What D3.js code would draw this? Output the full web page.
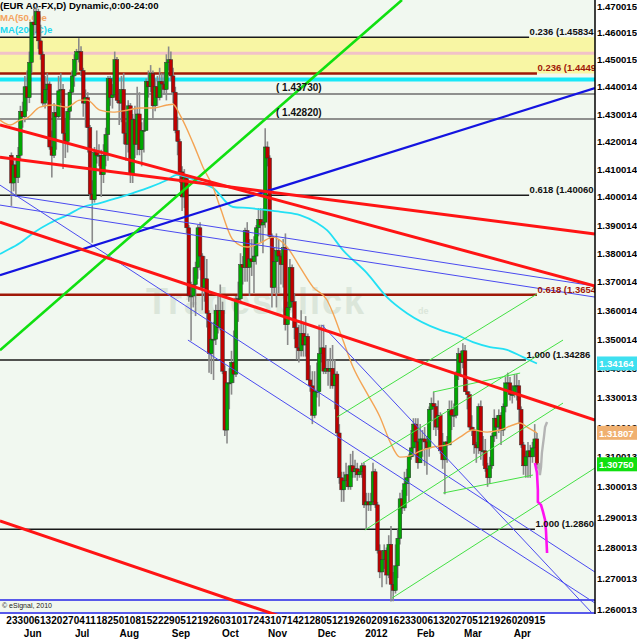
<!DOCTYPE html>
<html><head><meta charset="utf-8">
<script src="https://cdn.jsdelivr.net/npm/d3@7"></script>
<style>body{margin:0;background:#fff}svg{display:block}text{font-family:"Liberation Sans",Arial,sans-serif}</style>
</head><body><svg id="c" width="637" height="640"></svg>
<script>
// ---------- DATA (prices in pips /10000), one entry per trading day from 23 May 2011 ----------
const opens=[14150,14050,14115,14070,14150,14310,14290,14400,14360,14490,14640,14630,14680,14570,14520,14340,14390,14410,14180,14150,14305,14290,14385,14390,14230,14200,14310,14380,14440,14500,14530,14530,14460,14340,14360,14250,14010,13990,14160,14150,14150,14080,14150,14225,14430,14360,14370,14500,14350,14340,14390,14230,14190,14330,14080,14280,14190,14300,14170,14240,14240,14420,14400,14450,14330,14400,14360,14420,14410,14390,14490,14500,14440,14380,14240,14200,14090,14000,14070,13890,13650,13650,13690,13750,13890,13790,13680,13710,13590,13450,13500,13500,13600,13540,13600,13390,13190,13350,13350,13420,13380,13640,13640,13760,13750,13880,13750,13780,13770,13790,13890,13920,13900,13910,14180,14140,13860,13680,13770,13810,13790,13760,13820,13550,13610,13750,13630,13540,13470,13460,13520,13480,13510,13360,13340,13240,13320,13320,13450,13470,13390,13400,13390,13400,13340,13380,13180,13030,12990,13020,13040,13000,13070,13050,13060,13040,13050,13070,12940,12950,12940,12950,13050,12940,12790,12720,12760,12790,12710,12810,12680,12660,12740,12830,12960,12930,13010,13030,13100,13130,13210,13150,13080,13160,13160,13150,13130,13260,13280,13270,13200,13240,13120,13090,13150,13140,13260,13240,13240,13380,13450,13420,13460,13320,13310,13200,13190,13140,13130,13270,13120,13120,13060,13030,13070,13170,13230,13200,13240,13190,13270,13350,13350,13310,13310,13340,13340,13260,13140,13070,13100,13120,13100,13130,13160];
const highs=[14160,14130,14130,14180,14330,14345,14440,14460,14530,14640,14690,14698,14690,14630,14530,14440,14450,14420,14240,14340,14330,14440,14450,14410,14280,14320,14390,14460,14520,14540,14580,14550,14470,14390,14380,14260,14060,14180,14240,14190,14170,14190,14250,14440,14440,14410,14530,14510,14390,14440,14450,14270,14350,14340,14300,14330,14400,14380,14270,14280,14430,14460,14480,14460,14430,14440,14470,14450,14450,14520,14549,14530,14470,14400,14290,14210,14110,14100,14080,13900,13700,13750,13770,13900,13910,13800,13790,13780,13600,13560,13560,13620,13660,13690,13630,13410,13350,13400,13460,13530,13650,13700,13800,13790,13890,13910,13850,13850,13860,13900,13960,13960,13960,14248,14200,14150,13870,13820,13870,13850,13800,13850,13870,13630,13780,13760,13660,13560,13550,13600,13560,13580,13520,13410,13390,13390,13420,13550,13550,13550,13480,13430,13470,13480,13430,13390,13210,13050,13050,13080,13070,13110,13120,13090,13080,13060,13080,13080,12980,12980,12980,13080,13060,12950,12810,12790,12810,12800,12840,12870,12720,12810,12860,12980,12990,13050,13060,13110,13190,13230,13230,13230,13210,13190,13200,13170,13270,13300,13320,13280,13290,13250,13180,13150,13170,13290,13290,13280,13390,13470,13460,13486,13480,13360,13320,13240,13200,13150,13280,13290,13170,13160,13080,13100,13180,13260,13240,13260,13250,13280,13370,13385,13370,13340,13380,13380,13360,13270,13150,13120,13150,13140,13150,13210,13180];
const lows=[13968,14020,14000,14050,14130,14250,14270,14310,14340,14450,14590,14600,14540,14500,14330,14320,14350,14170,14070,14140,14170,14280,14340,14100,14140,14160,14280,14370,14400,14450,14490,14440,14290,14250,14160,13990,13837,13980,14120,14110,14000,14050,14110,14130,14330,14320,14360,14340,14260,14270,14190,14130,14160,14050,14050,14140,14150,14150,14110,14160,14240,14360,14380,14280,14310,14330,14350,14360,14370,14350,14460,14420,14340,14230,14150,14050,13950,13960,13870,13630,13495,13610,13580,13710,13740,13600,13630,13540,13385,13380,13360,13480,13520,13530,13380,13170,13145,13260,13310,13350,13370,13560,13630,13690,13700,13700,13650,13720,13660,13760,13860,13840,13800,13890,14110,13850,13610,13660,13610,13660,13690,13680,13530,13480,13600,13610,13500,13430,13420,13440,13440,13440,13360,13320,13210,13230,13300,13270,13420,13380,13380,13340,13330,13330,13260,13170,13010,12950,12950,13000,12990,12990,13030,13030,13020,13030,13030,12930,12860,12920,12920,12940,12930,12780,12700,12670,12730,12680,12700,12624,12625,12650,12700,12810,12910,12920,12970,12950,13090,13100,13080,13060,13080,13100,13070,13040,13100,13220,13190,13170,13190,13110,13060,12975,13080,13140,13190,13200,13230,13360,13370,13400,13320,13260,13190,13170,13110,13080,13110,13090,13070,13050,13000,13010,13060,13150,13160,13180,13140,13170,13250,13320,13290,13280,13300,13290,13210,13130,13040,13030,13030,13030,13080,13100,13060];
const closes=[14050,14115,14070,14150,14310,14290,14400,14360,14490,14640,14630,14680,14570,14520,14340,14390,14410,14180,14150,14305,14290,14385,14390,14230,14200,14310,14380,14440,14500,14530,14530,14460,14340,14360,14250,14010,13990,14160,14150,14150,14080,14150,14225,14430,14360,14370,14500,14350,14340,14390,14230,14190,14330,14080,14280,14190,14300,14170,14240,14240,14420,14400,14450,14330,14400,14360,14420,14410,14390,14490,14500,14440,14380,14240,14200,14090,14000,14070,13890,13650,13650,13690,13750,13890,13790,13680,13710,13590,13450,13500,13500,13600,13540,13600,13390,13190,13350,13350,13420,13380,13640,13640,13760,13750,13880,13750,13780,13770,13790,13890,13920,13900,13910,14180,14140,13860,13680,13770,13810,13790,13760,13820,13550,13610,13750,13630,13540,13470,13460,13520,13480,13510,13360,13340,13240,13320,13320,13450,13470,13390,13400,13390,13400,13340,13380,13180,13030,12990,13020,13040,13000,13070,13050,13060,13040,13050,13070,12940,12950,12940,12950,13050,12940,12790,12720,12760,12790,12710,12810,12680,12660,12740,12830,12960,12930,13010,13030,13100,13130,13210,13150,13080,13160,13160,13150,13130,13260,13280,13270,13200,13240,13120,13090,13150,13140,13260,13240,13240,13380,13450,13420,13460,13320,13310,13200,13190,13140,13130,13270,13120,13120,13060,13030,13070,13170,13230,13200,13240,13190,13270,13350,13350,13310,13310,13340,13340,13260,13140,13070,13100,13120,13100,13130,13160,13075];

// Moving averages: [trading-day index, price]
const ma50=[[-5.1,1.4278],[-0.6,1.4260],[3.8,1.4278],[6.9,1.4285],[12.7,1.4325],[18.5,1.4333],[24.8,1.4325],[30.5,1.4351],[33.7,1.4351],[39.4,1.4314],[45.2,1.4307],[51.5,1.4314],[57.3,1.4322],[63.1,1.4322],[69.3,1.4333],[71.9,1.4336],[75.1,1.4296],[80.9,1.4194],[85.3,1.4107],[89.8,1.4035],[92.9,1.3964],[98.7,1.3847],[104.9,1.3822],[110.7,1.3836],[116.5,1.3857],[122.7,1.3822],[128.5,1.3751],[134.3,1.3681],[140.5,1.3636],[143.2,1.3590],[147.6,1.3497],[152.1,1.3404],[158.3,1.3315],[164.1,1.3234],[168.6,1.3150],[173.0,1.3099],[177.5,1.3103],[181.9,1.3119],[187.7,1.3133],[193.9,1.3140],[199.7,1.3166],[205.5,1.3190],[211.8,1.3183],[217.5,1.3190],[223.3,1.3207],[226.5,1.3214],[229.6,1.3200],[234,1.31807]];
const ma200=[[-5.1,1.3797],[-4.2,1.3801],[3.8,1.3836],[9.6,1.3871],[17.2,1.3907],[24.8,1.3935],[31.9,1.3964],[39.4,1.3978],[47.0,1.3996],[54.1,1.4014],[61.7,1.4035],[69.3,1.4061],[73.7,1.4079],[78.2,1.4071],[84.0,1.4053],[89.8,1.4032],[98.7,1.3964],[106.2,1.3960],[113.8,1.3953],[120.9,1.3946],[128.5,1.3935],[136.1,1.3907],[140.5,1.3882],[147.6,1.3811],[158.3,1.3730],[167.2,1.3646],[176.1,1.3590],[190.8,1.3532],[198.4,1.3514],[205.5,1.3490],[213.1,1.3473],[220.7,1.3463],[227.8,1.3438],[234,1.34164]];

// Horizontal levels
const bandTop=1.45834, bandBottom=1.4449, pinkLevel=1.4524, cyanLevel=1.4427;
const fibPrices=[1.45834,1.4449,1.40060,1.3654,1.34286,1.2860];
const fibEnds=[230.5,234,230.5,234,229.1,233.1];
const fibLabels=["0.236 (1.45834","0.236 (1.4449","0.618 (1.40060","0.618 (1.3654","1.000 (1.34286","1.000 (1.2860"];
const grayLevels=[1.43730,1.42820];
const grayLabels=["( 1.43730)","( 1.42820)"];
const blueLevels=[1.2629,1.25872];

// Trend lines: [idx1, price1, idx2, price2]
const redLines=[[-5.1,1.4143,259.8,1.3868],[-5.1,1.4260,259.8,1.3685],[-5.1,1.3910,259.8,1.3224],[-5.1,1.2887,128.5,1.2555]];
const greenThick=[[-5.1,1.3462,173.9,1.4723]];
const blueThick=[[-5.1,1.3723,259.8,1.4395]];
const blueThin=[[-0.6,1.40066,259.8,1.36845],[-5.1,1.39709,259.8,1.36461],[-5.1,1.40425,259.8,1.27198],[78.6,1.34970,259.8,1.26194],[138.3,1.35488,258.5,1.25872]];
const greenThin=[[145.0,1.32339,234,1.36567],[156.5,1.30792,245.6,1.34970],[157.4,1.28571,245.6,1.32813],[169.5,1.26355,259.8,1.30625],[192.2,1.29793,232.2,1.30391],[187.7,1.33187,226.5,1.33836]];
// projections after the last bar
const projMagenta=[[233.1,1.3079],[234,1.3047],[234.4,1.2989],[234.4,1.2950],[235.8,1.2940],[236.7,1.2917],[237.6,1.2890],[238.0,1.2857],[238.5,1.2782]];
const projGray=[[234.8,1.3079],[235.3,1.3039],[235.8,1.3066],[236.2,1.3113],[237.1,1.3166],[237.6,1.3200],[238.5,1.3217]];

// Axis texts
const yTickLabels=["1.470015","1.460015","1.450015","1.440014","1.430014","1.420014","1.410014","1.400014","1.390014","1.380014","1.370014","1.360014","1.350014","1.340013","1.330013","1.320013","1.310013","1.300013","1.290013","1.280013","1.270013","1.260013"];
const weekLabels=["23","30","06","13","20","27","04","11","18","25","01","08","15","22","29","05","12","19","26","03","10","17","24","31","07","14","21","28","05","12","19","26","02","09","16","23","30","06","13","20","27","05","12","19","26","02","09","15"];
const monthLabels=["Jun","Jul","Aug","Sep","Oct","Nov","Dec","2012","Feb","Mar","Apr"];
const monthStarts=[7,29,50,73,95,116,138,160,182,203,225];

// ---------- DRAW ----------
const svg=d3.select("#c");
const PR=595, PB=614;
const x=d3.scaleLinear().domain([0,234]).range([11.4,11.4+234*2.246]);
const y=d3.scaleLog().domain([1.2584,1.4723]).range([PB,0]);
const P=v=>v/10000;

svg.append("rect").attr("width",637).attr("height",640).attr("fill","#ffffff");
svg.append("rect").attr("width",PR).attr("height",PB).attr("fill","#f1f8f0");
svg.append("defs").append("clipPath").attr("id","clip").append("rect").attr("width",PR).attr("height",PB);
const g=svg.append("g").attr("clip-path","url(#clip)");

// band
g.append("rect").attr("x",0).attr("width",PR).attr("y",y(bandTop)).attr("height",y(bandBottom)-y(bandTop)).attr("fill","#f8f6a4");
g.append("line").attr("x1",0).attr("x2",PR).attr("y1",y(pinkLevel)).attr("y2",y(pinkLevel)).attr("stroke","#f2c2c8").attr("stroke-width",3);
g.append("line").attr("x1",0).attr("x2",PR).attr("y1",y(cyanLevel)).attr("y2",y(cyanLevel)).attr("stroke","#18e8f8").attr("stroke-width",4);

// header texts
g.append("text").attr("x",0).attr("y",9).attr("font-size",9.6).attr("font-weight","bold").attr("fill","#000").text("(EUR A0-FX,D) Dynamic,0:00-24:00");
g.append("text").attr("x",0).attr("y",21).attr("font-size",9.6).attr("font-weight","bold").attr("fill","#f4a460").text("MA(50,C)e");
g.append("text").attr("x",0).attr("y",33).attr("font-size",9.6).attr("font-weight","bold").attr("fill","#20d8f0").text("MA(200,C)e");
// watermark
g.append("text").attr("x",146).attr("y",314).attr("font-size",36).attr("font-weight","bold").attr("letter-spacing",2).attr("fill","#dbe6da").text("Tradesblick");
g.append("text").attr("x",418).attr("y",314).attr("font-size",9).attr("font-weight","bold").attr("fill","#dbe6da").text("de");

// gray and blue horizontal levels
grayLevels.forEach(p=>g.append("line").attr("x1",0).attr("x2",PR).attr("y1",y(p)).attr("y2",y(p)).attr("stroke","#6e6e6e").attr("stroke-width",1.5));
blueLevels.forEach(p=>g.append("line").attr("x1",0).attr("x2",PR).attr("y1",y(p)).attr("y2",y(p)).attr("stroke","#2424e8").attr("stroke-width",1.5));
// fib levels
const isBrown=i=>(i===1||i===3);
fibPrices.forEach((p,i)=>{
  g.append("line").attr("x1",0).attr("x2",x(fibEnds[i])).attr("y1",y(p)).attr("y2",y(p))
   .attr("stroke",isBrown(i)?"#a01808":"#1a1a1a").attr("stroke-width",isBrown(i)?2.5:1.5);
});

// candles
const idx=d3.range(closes.length);
const cg=g.append("g");
cg.selectAll("line.w").data(idx).join("line").attr("class","w")
  .attr("x1",i=>x(i)).attr("x2",i=>x(i)).attr("y1",i=>y(P(highs[i]))).attr("y2",i=>y(P(lows[i])))
  .attr("stroke","#8a8a8a").attr("stroke-width",1.6);
cg.selectAll("rect.b").data(idx).join("rect").attr("class","b")
  .attr("x",i=>x(i)-1.8).attr("width",3.6)
  .attr("y",i=>y(P(Math.max(opens[i],closes[i]))))
  .attr("height",i=>Math.max(1,y(P(Math.min(opens[i],closes[i])))-y(P(Math.max(opens[i],closes[i])))))
  .attr("fill",i=>closes[i]>=opens[i]?"#00a800":"#c00000")
  .attr("stroke","#303030").attr("stroke-width",0.5);

// MAs
const ln=d3.line().x(d=>x(d[0])).y(d=>y(d[1])).curve(d3.curveMonotoneX);
g.append("path").attr("d",ln(ma200)).attr("fill","none").attr("stroke","#22e0f4").attr("stroke-width",1.8);
g.append("path").attr("d",ln(ma50)).attr("fill","none").attr("stroke","#f4a454").attr("stroke-width",1.4);

// trend lines
const seg=(arr,color,w)=>arr.forEach(d=>g.append("line").attr("x1",x(d[0])).attr("y1",y(d[1])).attr("x2",x(d[2])).attr("y2",y(d[3])).attr("stroke",color).attr("stroke-width",w));
seg(blueThin,"#4a4af0",1);
seg(greenThin,"#44e044",1);
seg(blueThick,"#1414e0",2.2);
seg(greenThick,"#10e010",2.6);
seg(redLines,"#ff1414",3);

// projections
const pl=d3.line().x(d=>x(d[0])).y(d=>y(d[1]));
g.append("path").attr("d",pl(projGray)).attr("fill","none").attr("stroke","#b4b4b4").attr("stroke-width",2.4);
g.append("path").attr("d",pl(projMagenta)).attr("fill","none").attr("stroke","#ff10f0").attr("stroke-width",2.6);

// level labels
fibLabels.forEach((t,i)=>g.append("text").attr("x",x(fibEnds[i])+0.5).attr("y",y(fibPrices[i])-2)
  .attr("font-size",9.5).attr("font-weight","bold").attr("fill",isBrown(i)?"#a01808":"#111").text(t));
grayLabels.forEach((t,i)=>g.append("text").attr("x",276).attr("y",y(grayLevels[i])-3)
  .attr("font-size",10).attr("font-weight","bold").attr("fill","#111").text(t));
g.append("text").attr("x",2).attr("y",608).attr("font-size",7).attr("fill","#222").text("© eSignal, 2010");

// axes
svg.append("line").attr("x1",PR).attr("x2",PR).attr("y1",0).attr("y2",PB).attr("stroke","#000").attr("stroke-width",1.5);
const yAxis=d3.axisRight(y).tickValues(yTickLabels.map(Number)).tickFormat((d,i)=>yTickLabels[i]).tickSize(0).tickPadding(1);
const ya=svg.append("g").attr("transform",`translate(${PR+1},0)`).call(yAxis);
ya.select(".domain").remove();
ya.selectAll("text").attr("font-size",9.6).attr("font-weight","bold").attr("fill","#000").attr("font-family","Liberation Sans, Arial, sans-serif");

const xAxis=d3.axisBottom(x).tickValues(weekLabels.map((d,i)=>i*5)).tickFormat((d,i)=>weekLabels[i]).tickSize(0).tickPadding(3);
const xa=svg.append("g").attr("transform",`translate(0,${PB})`).call(xAxis);
xa.select(".domain").remove();
xa.selectAll("text").attr("font-size",10).attr("font-weight","bold").attr("fill","#000").attr("font-family","Liberation Sans, Arial, sans-serif");
svg.selectAll("text.m").data(monthLabels).join("text").attr("class","m")
  .attr("x",(d,i)=>x(monthStarts[i]+2.5)).attr("y",637).attr("text-anchor","middle")
  .attr("font-size",10).attr("font-weight","bold").attr("fill","#000").text(d=>d);

// price boxes
const boxes=[[ma200[ma200.length-1][1],"#3ee0f0"],[ma50[ma50.length-1][1],"#f0b070"],[P(closes[closes.length-1]),"#10e010"]];
boxes.forEach(([v,c])=>{
  svg.append("rect").attr("x",597).attr("width",40).attr("y",y(v)-7).attr("height",14).attr("fill",c);
  svg.append("text").attr("x",599).attr("y",y(v)+4).attr("font-size",9.6).attr("font-weight","bold").attr("fill","#fff").text(v.toFixed(5));
});
</script></body></html>
